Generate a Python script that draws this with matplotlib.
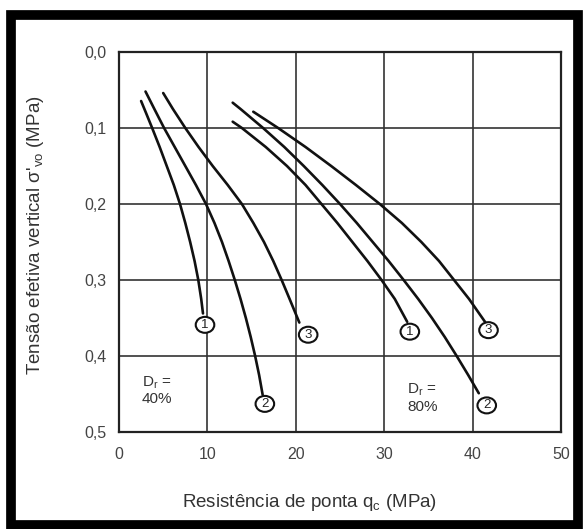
import matplotlib
matplotlib.use('Agg')
import matplotlib.pyplot as plt
from matplotlib.patches import Rectangle, Ellipse

plt.rcParams['font.family'] = ['Liberation Sans', 'DejaVu Sans']

# curvas Dr = 40%  (qc em MPa, tensão em MPa)
c40_1_x = [2.5, 3.05, 3.75, 4.6, 5.4, 6.2, 6.9, 7.5, 8.05, 8.55, 8.97, 9.3, 9.5]
c40_1_y = [0.0645, 0.08, 0.10, 0.125, 0.15, 0.175, 0.20, 0.225, 0.25, 0.275, 0.30, 0.325, 0.344]
c40_2_x = [3.0, 4.0, 5.1, 6.3, 7.5, 8.7, 9.84, 10.8, 11.65, 12.4, 13.1, 13.75, 14.35, 14.9,
           15.4, 15.85, 16.25]
c40_2_y = [0.052, 0.075, 0.10, 0.125, 0.15, 0.175, 0.20, 0.225, 0.25, 0.275, 0.30, 0.325,
           0.35, 0.375, 0.40, 0.425, 0.451]
c40_3_x = [5.0, 6.1, 7.5, 9.0, 10.6, 12.3, 13.9, 15.2, 16.4, 17.45, 18.4, 19.3, 20.4]
c40_3_y = [0.054, 0.075, 0.10, 0.125, 0.15, 0.175, 0.20, 0.225, 0.25, 0.275, 0.30, 0.325, 0.356]

# curvas Dr = 80%
c80_1_x = [12.86, 13.9, 16.6, 19.0, 21.1, 22.9, 24.7, 26.4, 28.1, 29.7, 31.2, 32.6]
c80_1_y = [0.0917, 0.10, 0.125, 0.15, 0.175, 0.20, 0.225, 0.25, 0.275, 0.30, 0.325, 0.355]
c80_2_x = [12.86, 13.75, 16.3, 18.7, 20.9, 23.0, 25.0, 26.9, 28.7, 30.5, 32.2, 33.85, 35.4,
           36.85, 38.2, 39.5, 40.7]
c80_2_y = [0.0667, 0.075, 0.10, 0.125, 0.15, 0.175, 0.20, 0.225, 0.25, 0.275, 0.30, 0.325,
           0.35, 0.375, 0.40, 0.425, 0.449]
c80_3_x = [15.19, 18.0, 21.1, 24.0, 26.8, 29.5, 32.0, 34.2, 36.2, 37.9, 39.6, 41.4]
c80_3_y = [0.0786, 0.10, 0.125, 0.15, 0.175, 0.20, 0.225, 0.25, 0.275, 0.30, 0.325, 0.355]

# rótulos circulados
lbl_text = ['1', '2', '3', '1', '2', '3']
lbl_x = [9.73, 16.5, 21.4, 32.9, 41.6, 41.8]
lbl_y = [0.359, 0.463, 0.372, 0.368, 0.465, 0.366]

xticks = [0, 10, 20, 30, 40, 50]
yticks = [0.0, 0.1, 0.2, 0.3, 0.4, 0.5]
ytick_labels = ['0,0', '0,1', '0,2', '0,3', '0,4', '0,5']

W, H = 585, 529
fig = plt.figure(figsize=(W / 100, H / 100), dpi=100)
ax = fig.add_axes([119 / W, 1 - 432 / H, 442 / W, 380 / H])

curves = [(c40_1_x, c40_1_y), (c40_2_x, c40_2_y), (c40_3_x, c40_3_y),
          (c80_1_x, c80_1_y), (c80_2_x, c80_2_y), (c80_3_x, c80_3_y)]
for cx, cy in curves:
    ax.plot(cx, cy, color='#111111', linewidth=1.9, solid_capstyle='round', zorder=3)

for t, lx, ly in zip(lbl_text, lbl_x, lbl_y):
    ax.add_patch(Ellipse((lx, ly), 2.1, 0.021, fc='white', ec='#111111', lw=1.5, zorder=4))
    ax.text(lx, ly, t, fontsize=9.5, ha='center', va='center', color='#222222', zorder=5)

ax.text(2.6, 0.445, '$\\mathregular{D_r}$ =\n40%', fontsize=11, ha='left', va='center',
        color='#333333', linespacing=1.1)
ax.text(32.6, 0.455, '$\\mathregular{D_r}$ =\n80%', fontsize=11, ha='left', va='center',
        color='#333333', linespacing=1.1)

ax.set_xlim(0, 50)
ax.set_ylim(0.5, 0.0)
ax.set_xticks(xticks)
ax.set_yticks(yticks)
ax.set_yticklabels(ytick_labels)
ax.tick_params(length=0, labelsize=11.5, labelcolor='#444444')
ax.tick_params(axis='y', pad=9)
ax.tick_params(axis='x', pad=11)
ax.grid(True, color='#333333', linewidth=1.2)
ax.set_axisbelow(True)
for s in ax.spines.values():
    s.set_color('#222222')
    s.set_linewidth(1.6)

ax.set_xlabel('Resistência de ponta q$\\mathregular{_c}$ (MPa)', fontsize=13.5, color='#333333')
ax.set_ylabel("Tensão efetiva vertical σ'$\\mathregular{_{vo}}$ (MPa)", fontsize=13.5, color='#333333')
ax.xaxis.set_label_coords(0.432, -0.158)
ax.yaxis.set_label_coords(-0.165, 0.518)

# moldura preta
fig.patches.append(Rectangle((11 / W, 1 - 525 / H), 567 / W, 510 / H, transform=fig.transFigure,
                             fill=False, ec='black', lw=7, zorder=10))

fig.savefig('out.png', dpi=100)
